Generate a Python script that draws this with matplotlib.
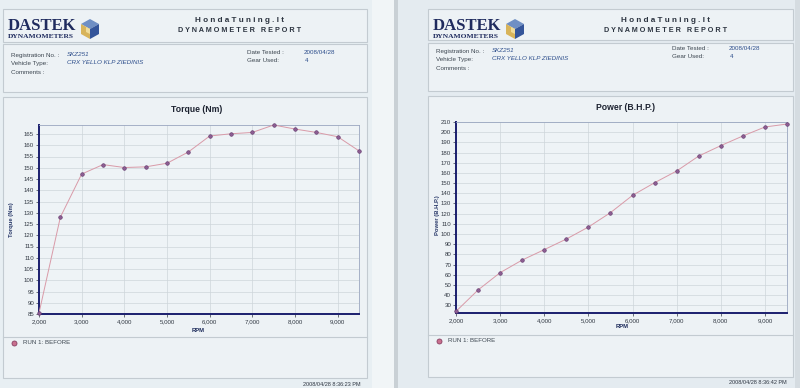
"""Two Dastek dyno sheets side by side: torque and power vs RPM, run 1 (before)."""
import matplotlib
matplotlib.use("Agg")
import matplotlib.pyplot as plt
from matplotlib.patches import Rectangle, Polygon
from matplotlib.ticker import FuncFormatter

plt.rcParams["font.family"] = ["Liberation Sans", "DejaVu Sans"]

rpm = [2000, 2500, 3000, 3500, 4000, 4500, 5000, 5500,
       6000, 6500, 7000, 7500, 8000, 8500, 9000, 9500]
torque_nm = [85.4, 128, 147.2, 151.4, 150.1, 150.4, 152, 157,
             164.1, 165.1, 165.7, 169, 167.2, 165.7, 163.8, 157.5]
power_bhp = [24.1, 45.1, 62.1, 74.5, 84.7, 95.1, 106.9, 121,
             138, 150.4, 161.9, 176.6, 186.8, 196.3, 205.1, 208]
torque_ticks = list(range(85, 170, 5))
power_ticks = list(range(30, 220, 10))
rpm_ticks = list(range(2000, 10000, 1000))

W, H = 800, 388
PAPER = "#e7eef2"
BOX_EDGE = "#c3cbd1"
NAVY = "#1b1f6e"
LINE_C = "#d99aa8"
MARK_C = "#8c5d92"
TEXT_C = "#3c4650"
BLUE_T = "#2e4f8c"


def px(x0, y0, x1, y1):
    return [x0 / W, 1 - y1 / H, (x1 - x0) / W, (y1 - y0) / H]


fig = plt.figure(figsize=(W / 100, H / 100), dpi=100)
fig.patch.set_facecolor(PAPER)

bg = fig.add_axes([0, 0, 1, 1], zorder=0)
bg.set_xlim(0, W); bg.set_ylim(H, 0); bg.axis("off")

# paper sheets and the fold between them
bg.add_patch(Rectangle((0, 0), 394, H, fc="#e8eff3", ec="none"))
bg.add_patch(Rectangle((372, 0), 22, H, fc="#f1f5f7", ec="none"))
bg.add_patch(Rectangle((394, 0), 4, H, fc="#c9d0d5", ec="none"))
bg.add_patch(Rectangle((398, 0), 402, H, fc="#e4ebf0", ec="none"))
bg.add_patch(Rectangle((795, 0), 5, H, fc="#d5dce1", ec="none"))


def logo(x, y):
    bg.text(x, y + 12.5, "DASTEK", fontsize=12, fontweight="bold", color="#1f2b5e",
            family=["Liberation Serif"], va="baseline", ha="left")
    bg.text(x, y + 20, "DYNAMOMETERS", fontsize=5.4, fontweight="bold",
            color="#1f2b5e", family=["Liberation Serif"], va="baseline", ha="left")
    cx, cy = x + 82, y + 11
    top = [(cx, cy - 10), (cx + 9, cy - 5), (cx, cy), (cx - 9, cy - 5)]
    left = [(cx - 9, cy - 5), (cx, cy), (cx, cy + 10), (cx - 9, cy + 5)]
    right = [(cx + 9, cy - 5), (cx + 9, cy + 5), (cx, cy + 10), (cx, cy)]
    bg.add_patch(Polygon(top, fc="#6f8fc4", ec="none"))
    bg.add_patch(Polygon(left, fc="#d8b45a", ec="none"))
    bg.add_patch(Polygon(right, fc="#34559a", ec="none"))
    inner = [(cx - 4, cy - 2), (cx, cy), (cx, cy + 5), (cx - 4, cy + 3)]
    bg.add_patch(Polygon(inner, fc="#f0dc9a", ec="none"))


def sheet(x0, x1, hdr, info, ty, chart_y0, legend_y, bottom, stamp):
    for (ya, yb) in (hdr, info, (chart_y0, bottom)):
        bg.add_patch(Rectangle((x0, ya), x1 - x0, yb - ya, fc="#edf2f5",
                               ec=BOX_EDGE, lw=0.8))
    bg.plot([x0, x1], [legend_y, legend_y], color=BOX_EDGE, lw=0.8)
    logo(x0 + 5, hdr[0] + 9)
    mid = x0 + (x1 - x0) * 0.65
    bg.text(mid, hdr[0] + 11, " ".join("HondaTuning.lt"), fontsize=5.9,
            fontweight="bold", color="#2c3440", ha="center", va="center")
    bg.text(mid, hdr[0] + 22, " ".join("DYNAMOMETER") + "   " + " ".join("REPORT"),
            fontsize=5.2, fontweight="bold", color="#2c3440", ha="center", va="center")
    fs = 4.5
    bg.text(x0 + 8, ty, "Registration No. :", fontsize=fs, color=TEXT_C, va="center")
    bg.text(x0 + 8, ty + 8, "Vehicle Type:", fontsize=fs, color=TEXT_C, va="center")
    bg.text(x0 + 8, ty + 17, "Comments :", fontsize=fs, color=TEXT_C, va="center")
    bg.text(x0 + 64, ty - 1, "SKZ251", fontsize=fs, color=BLUE_T, style="italic",
            va="center")
    bg.text(x0 + 64, ty + 7, "CRX YELLO KLP ZIEDINIS", fontsize=fs, color=BLUE_T,
            style="italic", va="center")
    bg.text(x0 + 244, ty - 3, "Date Tested :", fontsize=fs, color=TEXT_C, va="center")
    bg.text(x0 + 244, ty + 5, "Gear Used:", fontsize=fs, color=TEXT_C, va="center")
    bg.text(x0 + 301, ty - 3, "2008/04/28", fontsize=fs, color=BLUE_T, va="center")
    bg.text(x0 + 302, ty + 5, "4", fontsize=fs, color=BLUE_T, va="center")
    bg.plot([x0 + 11], [legend_y + 6], "o", ms=3.6, mfc="#c9708e", mec="#8a4064",
            mew=0.6)
    bg.text(x0 + 20, legend_y + 6, "RUN 1: BEFORE", fontsize=4.4, color=TEXT_C,
            va="center")
    bg.text(x1 - 6, bottom + 6, stamp, fontsize=4, color="#2c3440", ha="right",
            va="center")


sheet(3, 367, (9, 42), (44, 92), 55, 97, 337, 378, "2008/04/28 8:36:23 PM")
sheet(428, 793, (9, 40), (43, 91), 51, 96, 335, 377, "2008/04/28 8:36:42 PM")

comma = FuncFormatter(lambda v, p: f"{int(v):,}")


def chart(rect, y, yticks, ylim, title, ylabel, title_xy, ylab_xy, rpm_xy):
    ax = fig.add_axes(px(*rect), zorder=2)
    ax.set_facecolor("#eef3f6")
    ax.plot(rpm, y, color=LINE_C, lw=0.7, zorder=3, clip_on=False)
    ax.plot(rpm, y, "o", ms=2.6, mfc=MARK_C, mec="#5e3468", mew=0.4, zorder=4,
            clip_on=False)
    ax.set_xlim(2000, 9500)
    ax.set_ylim(*ylim)
    ax.set_xticks(rpm_ticks)
    ax.set_yticks(yticks)
    ax.xaxis.set_major_formatter(comma)
    ax.grid(True, color="#cdd5da", lw=0.5)
    ax.set_axisbelow(True)
    ax.tick_params(labelsize=4.4, colors="#333a44", length=2, width=0.5, pad=1.5)
    for s in ("left", "bottom"):
        ax.spines[s].set_color(NAVY); ax.spines[s].set_linewidth(1.4)
    for s in ("top", "right"):
        ax.spines[s].set_color("#9aa6c0"); ax.spines[s].set_linewidth(0.6)
    bg.text(*title_xy, title, fontsize=6.2, fontweight="bold", color="#1c2230",
            ha="center", va="center")
    bg.text(*ylab_xy, ylabel, fontsize=4.2, fontweight="bold", color="#2a3a6a",
            rotation=90, ha="center", va="center")
    bg.text(*rpm_xy, "RPM", fontsize=4.2, fontweight="bold", color="#1c2a5a",
            ha="center", va="center")
    return ax


chart((39, 125, 359, 314), torque_nm, torque_ticks, (85, 169), "Torque (Nm)",
      "Torque (Nm)", (197, 110), (12, 220), (198, 330))
chart((456, 122, 787, 313), power_bhp, power_ticks, (22.5, 210), "Power (B.H.P.)",
      "Power (B.H.P.)", (625, 108), (438, 215), (622, 327))

fig.savefig("out.png", dpi=100, facecolor=fig.get_facecolor())
